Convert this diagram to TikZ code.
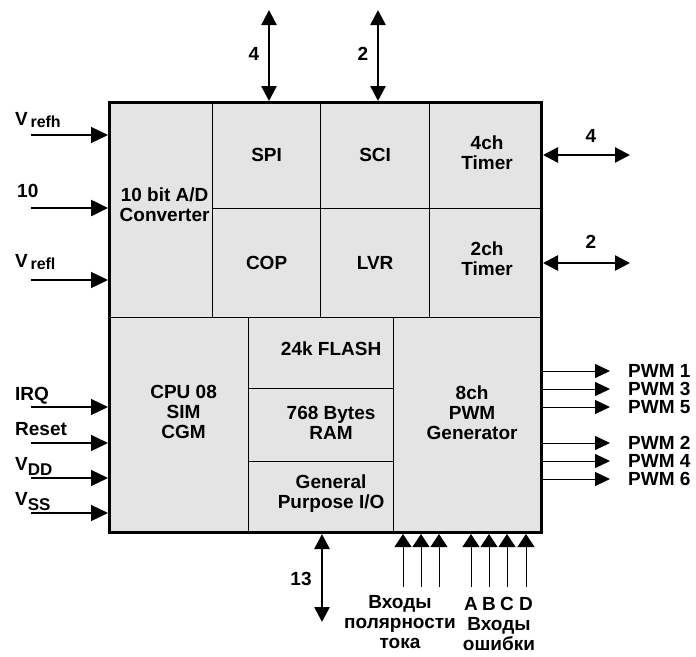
\documentclass[tikz,border=0pt]{standalone}
\usepackage{fontspec}
\setmainfont{Liberation Sans}
\usetikzlibrary{arrows.meta}
\definecolor{cellgray}{HTML}{E4E4E4}
\begin{document}
\begin{tikzpicture}[x=1pt,y=-1pt,
  txt/.style={font=\fontsize{19}{20}\selectfont\bfseries, inner sep=0pt, align=center},
  cell/.style={draw, line width=1.2pt, fill=cellgray, inner sep=0pt, anchor=north west},
  sig/.style={line width=1.4pt, -{Triangle[length=17pt,width=16pt]}},
  bus/.style={line width=2.6pt, -{Triangle[length=17pt,width=16pt]}},
  bidir/.style={line width=2.6pt, {Triangle[length=15pt,width=15pt]}-{Triangle[length=15pt,width=15pt]}},
  pwmout/.style={line width=1pt, -{Triangle[length=15pt,width=14pt]}},
  inp/.style={line width=1pt, -{Triangle[length=13pt,width=17pt]}}
]
\useasboundingbox (0,0) rectangle (696,656);

% cells
\node[cell, minimum width=104pt, minimum height=216pt] (adc) at (108,101) {};
\node[cell, minimum width=108pt, minimum height=107pt] (spi) at (212,101) {};
\node[cell, minimum width=109pt, minimum height=107pt] (sci) at (320,101) {};
\node[cell, minimum width=111pt, minimum height=107pt] (tfour) at (429,101) {};
\node[cell, minimum width=108pt, minimum height=109pt] (cop) at (212,208) {};
\node[cell, minimum width=109pt, minimum height=109pt] (lvr) at (320,208) {};
\node[cell, minimum width=111pt, minimum height=109pt] (ttwo) at (429,208) {};
\node[cell, minimum width=140pt, minimum height=214pt] (cpu) at (108,317) {};
\node[cell, minimum width=145pt, minimum height=71pt] (flash) at (248,317) {};
\node[cell, minimum width=145pt, minimum height=73pt] (ram) at (248,388) {};
\node[cell, minimum width=145pt, minimum height=70pt] (gpio) at (248,461) {};
\node[cell, minimum width=147pt, minimum height=214pt] (pwm) at (393,317) {};
\node[draw, line width=3pt, minimum width=432pt, minimum height=430pt, inner sep=0pt, anchor=north west] (chip) at (108,101) {};

% cell texts
\node[txt] (adct) at ([xshift=4pt,yshift=5pt]adc.center) {10 bit A/D\\Converter};
\node[txt] (spit) at (spi.center) {SPI};
\node[txt] (scit) at (sci.center) {SCI};
\node[txt] (tfourt) at ([xshift=2pt,yshift=2pt]tfour.center) {4ch\\Timer};
\node[txt] (copt) at (cop.center) {COP};
\node[txt] (lvrt) at (lvr.center) {LVR};
\node[txt] (ttwot) at ([xshift=2pt,yshift=4pt]ttwo.center) {2ch\\Timer};
\node[txt] (cput) at ([xshift=5pt,yshift=13pt]cpu.center) {CPU 08\\SIM\\CGM};
\node[txt] (flasht) at ([xshift=10pt,yshift=4pt]flash.center) {24k FLASH};
\node[txt] (ramt) at ([xshift=10pt,yshift=2pt]ram.center) {768 Bytes\\RAM};
\node[txt] (gpiot) at ([xshift=10pt,yshift=3pt]gpio.center) {General\\Purpose I/O};
\node[txt] (pwmt) at ([xshift=5pt,yshift=12pt]pwm.center) {8ch\\PWM\\Generator};

% left inputs
\coordinate (vh) at (31,135);
\coordinate (ain) at (31,208);
\coordinate (vl) at (31,280);
\coordinate (irq) at (31,407);
\coordinate (rst) at (31,443);
\coordinate (vdd) at (31,478);
\coordinate (vss) at (31,513);
\draw[sig] (vh) -- (vh -| chip.west);
\draw[bus] (ain) -- (ain -| chip.west);
\draw[sig] (vl) -- (vl -| chip.west);
\draw[sig] (irq) -- (irq -| chip.west);
\draw[sig] (rst) -- (rst -| chip.west);
\draw[sig] (vdd) -- (vdd -| chip.west);
\draw[sig] (vss) -- (vss -| chip.west);
\node[txt, anchor=base west] (vhl) at (15,125) {V\raisebox{-2pt}{\fontsize{16}{16}\selectfont\,refh}};
\node[txt, anchor=base west] (ainl) at (17,197) {10};
\node[txt, anchor=base west] (vll) at (15,267) {V\raisebox{-2pt}{\fontsize{16}{16}\selectfont\,refl}};
\node[txt, anchor=base west] (irql) at (15,400) {IRQ};
\node[txt, anchor=base west] (rstl) at (15,435) {Reset};
\node[txt, anchor=base west] (vddl) at (15,470) {V\raisebox{-5pt}{\fontsize{17}{17}\selectfont DD}};
\node[txt, anchor=base west] (vssl) at (15,505) {V\raisebox{-5pt}{\fontsize{17}{17}\selectfont SS}};

% top buses
\coordinate (tspi) at (269,10);
\coordinate (tsci) at (378,10);
\draw[bidir] (tspi) -- (tspi |- chip.north);
\draw[bidir] (tsci) -- (tsci |- chip.north);
\node[txt, anchor=base] (tspil) at (254,60) {4};
\node[txt, anchor=base] (tscil) at (363,60) {2};

% right timer buses
\coordinate (rfour) at (630,155);
\coordinate (rtwo) at (630,263);
\draw[bidir] (rfour -| chip.east) -- (rfour);
\draw[bidir] (rtwo -| chip.east) -- (rtwo);
\node[txt, anchor=base] (rfourl) at (591,142) {4};
\node[txt, anchor=base] (rtwol) at (591,248) {2};

% PWM outputs
\foreach \n/\y in {1/371,3/389,5/407,2/443,4/461,6/479}{
  \coordinate (p\n) at (610,\y);
  \draw[pwmout] (p\n -| chip.east) -- (p\n);
  \node[txt, anchor=west] (pl\n) at ([xshift=18pt]p\n) {PWM \n};
}

% bottom GPIO bus
\coordinate (cb) at (322,622);
\draw[bidir] (cb |- chip.south) -- (cb);
\node[txt, anchor=base] (cbl) at (301,585) {13};

% polarity inputs
\foreach \n/\x in {1/403,2/421,3/439}{
  \coordinate (pol\n) at (\x,587);
  \draw[inp] (pol\n) -- (pol\n |- chip.south);
}
\node[txt, anchor=north, font=\fontsize{19}{20}\selectfont\bfseries] (poll) at (400,595) {Входы\\полярности\\тока};

% fault inputs
\foreach \n/\x in {A/471,B/489,C/507,D/526}{
  \coordinate (f\n) at (\x,587);
  \draw[inp] (f\n) -- (f\n |- chip.south);
  \node[txt, anchor=base] (fl\n) at ([yshift=-23pt]f\n) {\n};
}
\node[txt, anchor=north, font=\fontsize{19}{20}\selectfont\bfseries] (faultl) at (499,617) {Входы\\ошибки};
\end{tikzpicture}
\end{document}
